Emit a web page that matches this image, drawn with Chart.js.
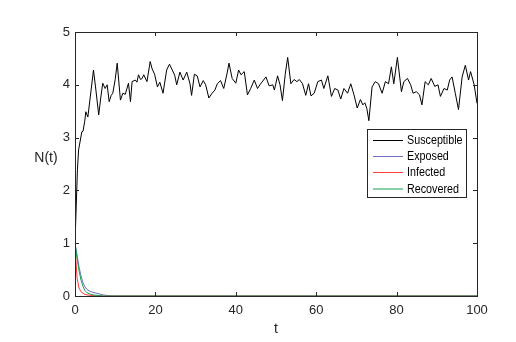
<!DOCTYPE html>
<html>
<head>
<meta charset="utf-8">
<script src="https://cdn.jsdelivr.net/npm/chart.js@4.4.1/dist/chart.umd.min.js"></script>
<style>
  html, body { margin: 0; padding: 0; background: #fff; }
  canvas { display: block; }
</style>
</head>
<body>
<canvas id="chart" width="516" height="342"></canvas>
<script>
// time points
const tS = [
  0, 0.6, 0.9, 1.7, 2.0, 2.4, 2.7, 3.2, 3.8, 4.6,
  5.2, 5.9, 6.4, 6.9, 7.5, 8.0, 8.5, 9.0, 9.4, 10.0,
  10.5, 11.3, 11.9, 12.5, 13.3, 13.8, 14.2, 15.0, 15.4, 15.8,
  16.3, 16.7, 17.1, 17.9, 18.7, 19.2, 19.8, 20.5, 21.1, 21.9,
  22.8, 23.5, 24.2, 24.8, 25.3, 26.1, 26.9, 27.8, 28.6, 29.0,
  29.7, 30.4, 31.1, 31.9, 32.5, 33.3, 34.1, 34.8, 35.4, 36.2,
  37.0, 37.9, 38.3, 39.1, 40.0, 40.7, 41.3, 42.1, 42.9, 43.7,
  44.6, 45.4, 46.0, 46.5, 47.5, 48.3, 49.2, 49.6, 50.4, 51.0,
  51.6, 52.3, 52.9, 53.7, 54.5, 55.2, 55.8, 56.6, 57.4, 58.1,
  58.7, 59.5, 60.4, 61.3, 61.9, 62.9, 63.8, 64.6, 65.4, 66.1,
  66.9, 67.8, 68.6, 69.4, 70.2, 71.0, 71.6, 72.1, 72.6, 73.1,
  73.9, 74.7, 75.5, 76.4, 77.2, 78.0, 78.7, 79.3, 80.2, 81.2,
  81.8, 82.7, 83.5, 84.1, 84.9, 85.7, 86.3, 87.1, 87.9, 88.6,
  89.5, 90.3, 90.9, 91.8, 92.6, 93.2, 93.8, 94.6, 95.4, 96.3,
  97.1, 97.9, 98.4, 99.3, 100
];
const susceptible = [
  1.0, 2.39, 2.77, 3.11, 3.12, 3.3, 3.49, 3.39, 3.77, 4.28,
  3.9, 3.43, 3.75, 4.03, 3.93, 4.0, 3.68, 3.8, 3.84, 4.1,
  4.41, 3.71, 3.84, 3.82, 4.03, 3.68, 4.06, 4.09, 4.05, 4.19,
  4.1, 4.12, 4.19, 4.06, 4.44, 4.3, 4.2, 3.96, 4.05, 3.84,
  4.28, 4.39, 4.28, 4.18, 4.0, 4.24, 4.09, 4.24, 4.02, 3.8,
  4.2, 4.17, 3.96, 4.08, 4.0, 3.75, 3.84, 3.9, 4.02, 4.08,
  3.93, 4.24, 4.41, 4.12, 4.03, 4.28, 4.19, 4.25, 3.81, 3.93,
  4.09, 3.93, 4.0, 4.05, 4.15, 3.98, 4.0, 3.9, 4.17, 4.0,
  3.7, 4.2, 4.52, 4.02, 4.1, 4.06, 4.1, 4.02, 3.8, 4.02,
  3.79, 3.84, 4.06, 4.09, 3.93, 4.17, 3.78, 3.93, 3.9, 3.73,
  3.93, 3.84, 4.02, 3.81, 3.56, 3.72, 3.62, 3.66, 3.55, 3.32,
  3.96, 4.06, 4.02, 3.84, 4.06, 4.02, 4.34, 4.02, 4.52, 3.87,
  4.06, 4.12, 4.0, 3.84, 3.87, 3.81, 3.62, 4.06, 4.0, 4.12,
  3.97, 4.0, 3.78, 3.93, 3.9, 4.09, 4.15, 3.84, 3.53, 4.15,
  4.37, 4.09, 4.25, 4.0, 3.65
];

// the other three compartments die out quickly
const tEIR      = [0, 0.5, 1, 1.5, 2, 2.5, 3, 4, 5, 6, 7, 8, 10, 100];
const exposed   = [1.0, 0.78, 0.55, 0.38, 0.25, 0.17, 0.12, 0.08, 0.06, 0.04, 0.02, 0.01, 0, 0];
const infected  = [0.95, 0.35, 0.15, 0.08, 0.05, 0.03, 0.02, 0.01, 0.005, 0, 0, 0, 0, 0];
const recovered = [1.0, 0.72, 0.48, 0.3, 0.18, 0.1, 0.06, 0.03, 0.015, 0.01, 0, 0, 0, 0];

const seriesNames  = ['Susceptible', 'Exposed', 'Infected', 'Recovered'];
const seriesColors = ['#000000', '#6f6fc8', '#ff3b3b', '#12a050'];
const xTicks = [0, 20, 40, 60, 80, 100];
const yTicks = [0, 1, 2, 3, 4, 5];

const textColor = '#262626';
const fontFamily = 'Arial, "Liberation Sans", sans-serif';

function toPoints(xs, ys) {
  return xs.map((x, i) => ({ x: x, y: ys[i] }));
}

// box, inward ticks, axis labels and legend drawn the matlab way
const matlabAxes = {
  id: 'matlabAxes',
  afterDatasetsDraw(chart) {
    const ctx = chart.ctx;
    const a = chart.chartArea;
    const xs = chart.scales.x;
    const ys = chart.scales.y;
    const tickLen = 4;

    ctx.save();
    ctx.strokeStyle = textColor;
    ctx.lineWidth = 1;
    ctx.strokeRect(Math.round(a.left) + 0.5, Math.round(a.top) + 0.5,
      Math.round(a.right - a.left), Math.round(a.bottom - a.top));

    ctx.beginPath();
    xTicks.forEach(v => {
      const px = Math.round(xs.getPixelForValue(v)) + 0.5;
      ctx.moveTo(px, a.bottom); ctx.lineTo(px, a.bottom - tickLen);
      ctx.moveTo(px, a.top); ctx.lineTo(px, a.top + tickLen);
    });
    yTicks.forEach(v => {
      const py = Math.round(ys.getPixelForValue(v)) + 0.5;
      ctx.moveTo(a.left, py); ctx.lineTo(a.left + tickLen, py);
      ctx.moveTo(a.right, py); ctx.lineTo(a.right - tickLen, py);
    });
    ctx.stroke();

    // axis labels
    ctx.fillStyle = textColor;
    ctx.font = '14px ' + fontFamily;
    ctx.textAlign = 'center';
    ctx.textBaseline = 'middle';
    ctx.fillText('t', (a.left + a.right) / 2, 329);
    ctx.fillText('N(t)', 46, 158);

    // legend
    const lx = 367, ly = 129, lw = 99, lh = 68;
    ctx.fillStyle = '#fff';
    ctx.fillRect(lx, ly, lw, lh);
    ctx.strokeStyle = textColor;
    ctx.strokeRect(lx + 0.5, ly + 0.5, lw, lh);
    const rows = [140, 156, 172, 188.5];
    seriesNames.forEach((name, i) => {
      ctx.strokeStyle = seriesColors[i];
      ctx.beginPath();
      ctx.moveTo(373, rows[i] + 0.5);
      ctx.lineTo(403, rows[i] + 0.5);
      ctx.stroke();
      ctx.save();
      ctx.translate(407, rows[i] + 1);
      ctx.scale(0.86, 1);
      ctx.fillStyle = '#000';
      ctx.font = '12.5px ' + fontFamily;
      ctx.textAlign = 'left';
      ctx.fillText(name, 0, 0);
      ctx.restore();
    });
    ctx.restore();
  }
};

const seriesData = [
  toPoints(tS, susceptible),
  toPoints(tEIR, exposed),
  toPoints(tEIR, infected),
  toPoints(tEIR, recovered)
];

new Chart(document.getElementById('chart').getContext('2d'), {
  type: 'line',
  data: {
    datasets: seriesNames.map((name, i) => ({
      label: name,
      data: seriesData[i],
      borderColor: seriesColors[i],
      borderWidth: 1,
      pointRadius: 0,
      tension: 0,
      order: 3 - i
    }))
  },
  options: {
    responsive: false,
    animation: false,
    devicePixelRatio: 1,
    layout: { padding: { left: 0, top: 32, right: 39, bottom: 0 } },
    plugins: {
      legend: { display: false },
      tooltip: { enabled: false }
    },
    scales: {
      x: {
        type: 'linear',
        min: 0,
        max: 100,
        afterBuildTicks: s => { s.ticks = xTicks.map(v => ({ value: v })); },
        afterFit: s => { s.height = 46; },
        grid: { display: false, drawTicks: false },
        border: { display: false },
        ticks: { color: textColor, font: { family: fontFamily, size: 13 }, padding: 7, maxRotation: 0 }
      },
      y: {
        type: 'linear',
        min: 0,
        max: 5,
        afterBuildTicks: s => { s.ticks = yTicks.map(v => ({ value: v })); },
        afterFit: s => { s.width = 75; },
        grid: { display: false, drawTicks: false },
        border: { display: false },
        ticks: { color: textColor, font: { family: fontFamily, size: 13 }, padding: 5 }
      }
    }
  },
  plugins: [matlabAxes]
});
</script>
</body>
</html>
